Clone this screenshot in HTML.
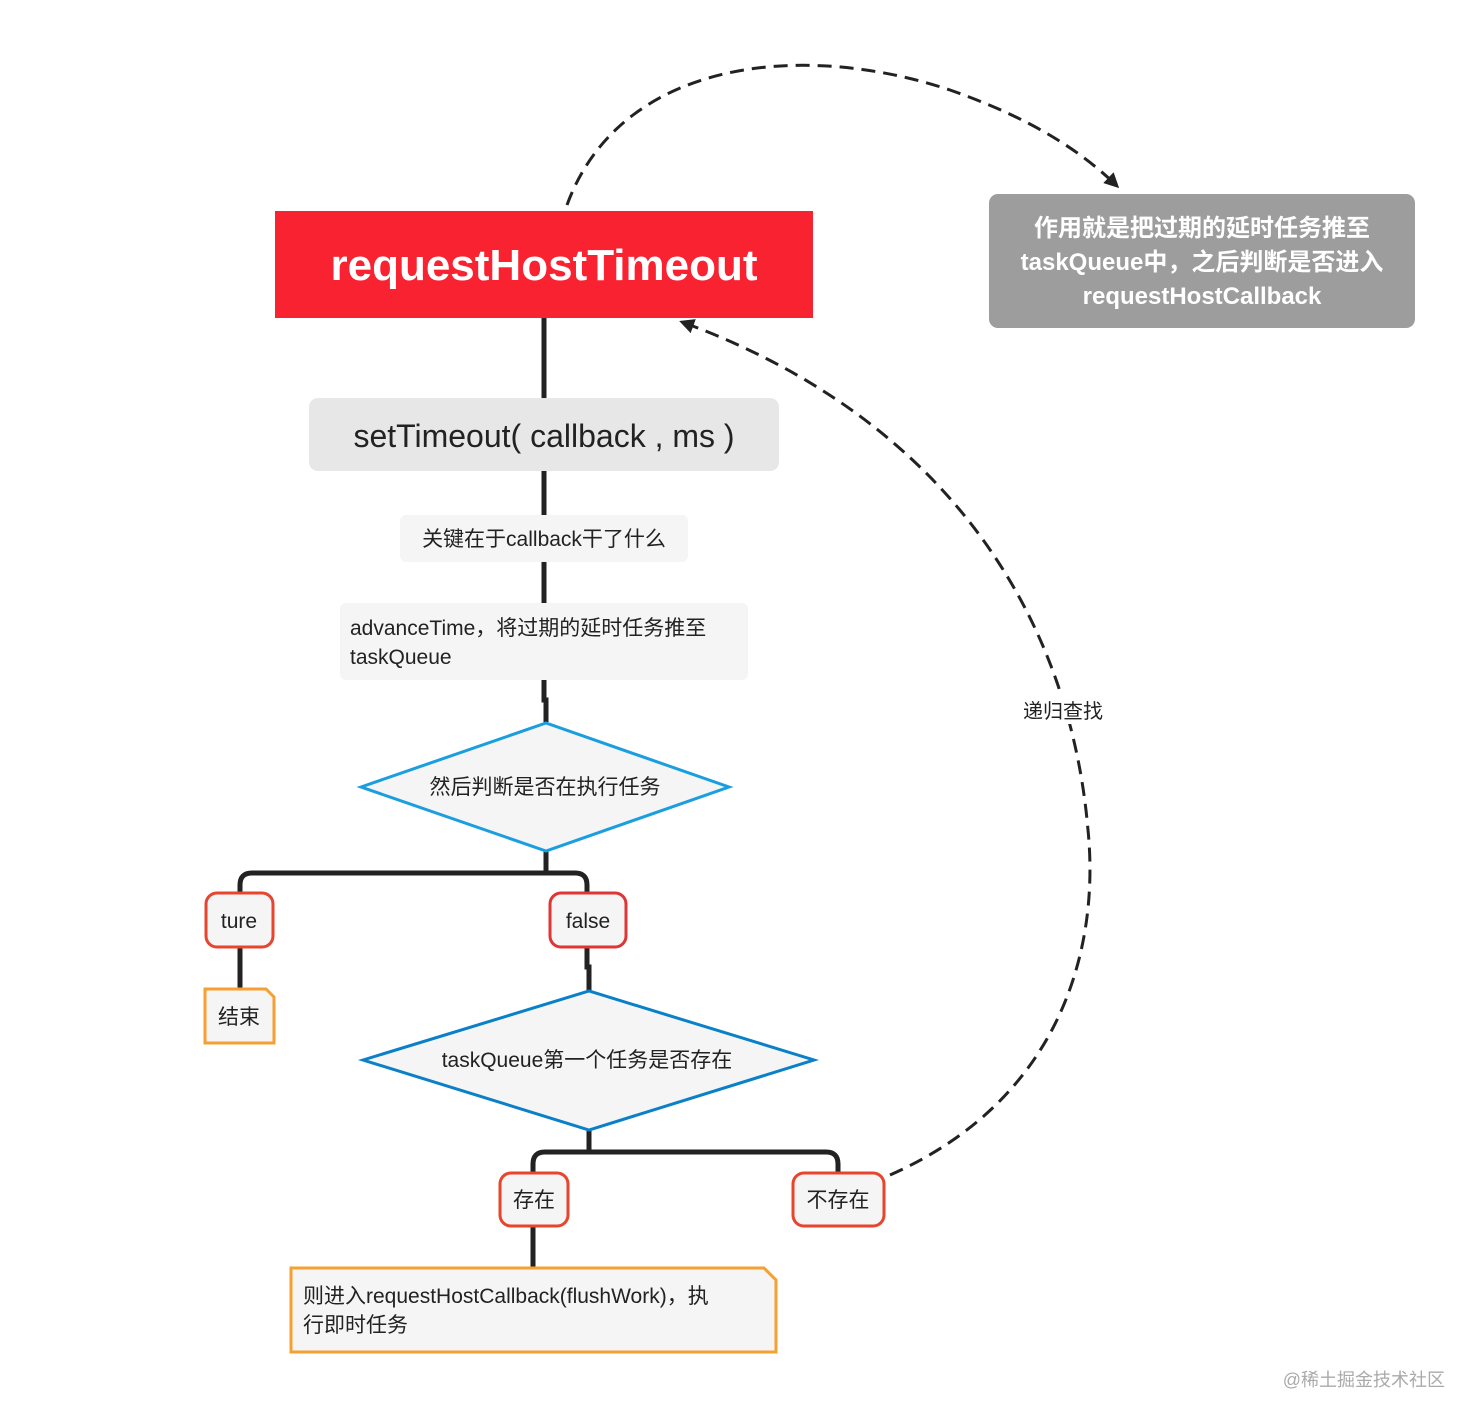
<!DOCTYPE html>
<html><head><meta charset="utf-8"><style>
html,body{margin:0;padding:0;background:#fff;}
svg{display:block;}
text{font-family:"Liberation Sans","Noto Sans CJK SC",sans-serif;}
</style></head><body>
<svg width="1480" height="1424" viewBox="0 0 1480 1424" xmlns="http://www.w3.org/2000/svg">
<defs>
<marker id="ar" viewBox="0 0 10 10" refX="8" refY="5" markerWidth="5" markerHeight="5" orient="auto"><path d="M0,0 L10,5 L0,10 z" fill="#222"/></marker>
</defs>
<!-- dashed curves -->
<path d="M567,205 C620,60 800,40 950,90 C1030,118 1080,150 1117,186" fill="none" stroke="#222" stroke-width="3" stroke-dasharray="14,8" marker-end="url(#ar)"/>
<path d="M890,1175 C1060,1100 1100,950 1088,830 C1070,620 950,420 682,322" fill="none" stroke="#222" stroke-width="3" stroke-dasharray="14,8" marker-end="url(#ar)"/>
<rect x="1016" y="694" width="94" height="30" fill="#fff"/>
<text x="1063" y="718" font-size="20" text-anchor="middle" fill="#222">递归查找</text>

<!-- solid connectors -->
<g stroke="#222" stroke-width="5" fill="none">
<line x1="544" y1="318" x2="544" y2="398"/>
<line x1="544" y1="471" x2="544" y2="515"/>
<line x1="544" y1="562" x2="544" y2="603"/>
<path d="M544,680 L544,700 L546,700 L546,722"/>
<path d="M546,851 L546,873"/>
<path d="M240,893 L240,885 Q240,873 252,873 L575,873 Q587,873 587,885 L587,893"/>
<line x1="240" y1="947" x2="240" y2="989"/>
<path d="M587,947 L587,967 L589,967 L589,991"/>
<path d="M589,1130 L589,1152"/>
<path d="M533,1173 L533,1164 Q533,1152 545,1152 L826,1152 Q838,1152 838,1164 L838,1173"/>
<line x1="533" y1="1226" x2="533" y2="1268"/>
</g>

<!-- main red -->
<rect x="275" y="211" width="538" height="107" fill="#f92231"/>
<text x="544" y="280" font-size="44" font-weight="bold" fill="#fff" text-anchor="middle">requestHostTimeout</text>

<rect x="309" y="398" width="470" height="73" rx="9" fill="#e7e7e7"/>
<text x="544" y="447" font-size="32" fill="#222" text-anchor="middle">setTimeout( callback , ms )</text>

<rect x="400" y="515" width="288" height="47" rx="6" fill="#f5f5f5"/>
<text x="544" y="546" font-size="21" fill="#222" text-anchor="middle">关键在于callback干了什么</text>

<rect x="340" y="603" width="408" height="77" rx="6" fill="#f5f5f5"/>
<text x="350" y="635" font-size="21" fill="#222">advanceTime，将过期的延时任务推至</text>
<text x="350" y="664" font-size="21" fill="#222">taskQueue</text>

<polygon points="361,787 546,723 729,787 546,851" fill="#f5f5f5" stroke="#1a9ee0" stroke-width="3"/>
<text x="545" y="794" font-size="21" fill="#222" text-anchor="middle">然后判断是否在执行任务</text>

<rect x="206" y="893" width="67" height="54" rx="11" fill="#f5f5f5" stroke="#e8442e" stroke-width="3"/>
<text x="239" y="928" font-size="21" fill="#222" text-anchor="middle">ture</text>
<rect x="550" y="893" width="76" height="54" rx="11" fill="#f5f5f5" stroke="#e03535" stroke-width="3"/>
<text x="588" y="928" font-size="21" fill="#222" text-anchor="middle">false</text>

<path d="M205,989 L266,989 L274,997 L274,1043 L205,1043 Z" fill="#f5f5f5" stroke="#f5a030" stroke-width="3"/>
<text x="239" y="1024" font-size="21" fill="#222" text-anchor="middle">结束</text>

<polygon points="363,1060 589,991 814,1060 589,1130" fill="#f5f5f5" stroke="#0a80c8" stroke-width="3"/>
<text x="587" y="1067" font-size="21" fill="#222" text-anchor="middle">taskQueue第一个任务是否存在</text>

<rect x="500" y="1173" width="68" height="53" rx="11" fill="#f5f5f5" stroke="#e8442e" stroke-width="3"/>
<text x="534" y="1207" font-size="21" fill="#222" text-anchor="middle">存在</text>
<rect x="793" y="1173" width="91" height="53" rx="11" fill="#f5f5f5" stroke="#e8442e" stroke-width="3"/>
<text x="838" y="1207" font-size="21" fill="#222" text-anchor="middle">不存在</text>

<path d="M291,1268 L764,1268 L776,1280 L776,1352 L291,1352 Z" fill="#f5f5f5" stroke="#f5a030" stroke-width="3"/>
<text x="303" y="1303" font-size="21" fill="#222">则进入requestHostCallback(flushWork)，执</text>
<text x="303" y="1332" font-size="21" fill="#222">行即时任务</text>

<rect x="989" y="194" width="426" height="134" rx="9" fill="#9d9d9d"/>
<text x="1202" y="236" font-size="24" font-weight="bold" fill="#fff" text-anchor="middle">作用就是把过期的延时任务推至</text>
<text x="1202" y="270" font-size="24" font-weight="bold" fill="#fff" text-anchor="middle">taskQueue中，之后判断是否进入</text>
<text x="1202" y="304" font-size="24" font-weight="bold" fill="#fff" text-anchor="middle">requestHostCallback</text>

<text x="1445" y="1386" font-size="18" fill="#aaa" text-anchor="end">@稀土掘金技术社区</text>
</svg>
</body></html>
